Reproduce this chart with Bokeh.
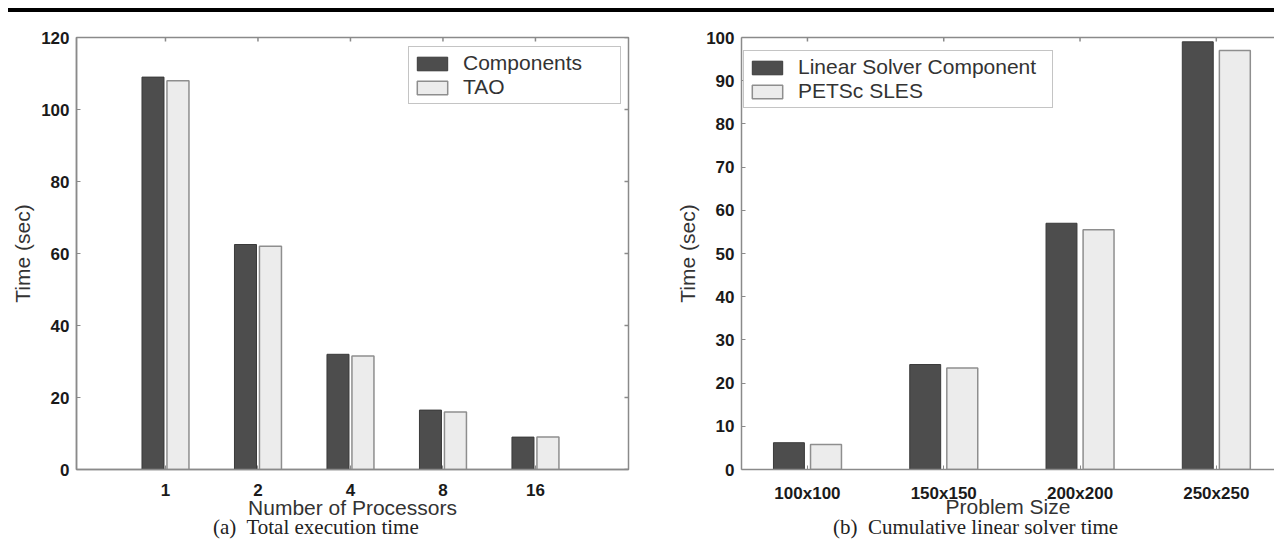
import numpy as np
from bokeh.plotting import figure
from bokeh.models import FixedTicker, Range1d, Div, LinearAxis
from bokeh.layouts import column, row
from bokeh.embed import file_html
from bokeh.resources import INLINE

# ---- data ----
procs = ["1", "2", "4", "8", "16"]
components = [109, 62.5, 32, 16.5, 9]
tao = [108, 62, 31.5, 16, 9]

sizes = ["100x100", "150x150", "200x200", "250x250"]
linear_solver = [6.2, 24.3, 57, 99]
petsc_sles = [5.8, 23.5, 55.5, 97]

DARK = "#4d4d4d"
DARK_LINE = "#3a3a3a"
LIGHT = "#ececec"
LIGHT_LINE = "#8e8e8e"
FRAME = "#8a8a8a"
SANS = "Liberation Sans"
SERIF = "Liberation Serif"
FIG_H = 517


def make_panel(cats, a, b, names, ymax, ystep, xr, width, mbl, mbr, bw, off,
               legend_xy, label_w, xlabel, xlabel_standoff, full_box):
    p = figure(width=width, height=FIG_H, x_range=Range1d(*xr), y_range=Range1d(0, ymax),
               output_backend="svg", toolbar_location=None,
               min_border_left=mbl, min_border_right=mbr, min_border_top=25,
               min_border_bottom=60, y_axis_label="Time (sec)")
    xs = np.arange(1, len(cats) + 1)
    p.vbar(x=xs - off, top=a, width=bw, fill_color=DARK, line_color=DARK_LINE,
           line_width=1, legend_label=names[0])
    p.vbar(x=xs + off, top=b, width=bw, fill_color=LIGHT, line_color=LIGHT_LINE,
           line_width=1.5, legend_label=names[1])
    p.grid.visible = False
    p.background_fill_color = "white"
    p.border_fill_color = "white"
    if full_box:
        p.outline_line_color = FRAME
        p.outline_line_width = 1.5
    else:
        p.outline_line_color = None

    yt = list(range(0, ymax + 1, ystep))
    xax = p.below[0]
    yax = p.left[0]
    xax.axis_label = xlabel
    xax.ticker = FixedTicker(ticks=list(xs))
    xax.major_label_overrides = {int(i): c for i, c in zip(xs, cats)}
    yax.ticker = FixedTicker(ticks=yt)
    for ax in (xax, yax):
        ax.axis_line_color = FRAME
        ax.axis_line_width = 1.5
        ax.major_tick_line_color = FRAME
        ax.major_tick_in = 4
        ax.major_tick_out = 0
        ax.minor_tick_line_color = None
        ax.major_label_text_font = SANS
        ax.major_label_text_font_style = "bold"
        ax.major_label_text_font_size = "17px"
        ax.major_label_text_color = "#1a1a1a"
        ax.axis_label_text_font = SANS
        ax.axis_label_text_font_style = "normal"
        ax.axis_label_text_font_size = "21px"
        ax.axis_label_text_color = "#333333"
    xax.major_label_standoff = 14
    xax.axis_label_standoff = xlabel_standoff
    yax.major_label_standoff = 7
    yax.axis_label_standoff = 4

    # inward ticks on the top edge (and right edge for the boxed panel)
    p.scatter(x=xs, y=[ymax] * len(xs), marker="dash", angle=np.pi / 2, size=8,
              line_color=FRAME, line_width=1.5)
    if full_box:
        p.scatter(x=[xr[1]] * len(yt), y=yt, marker="dash", size=8,
                  line_color=FRAME, line_width=1.5)
    else:
        top = LinearAxis(ticker=FixedTicker(ticks=[]), major_tick_line_color=None,
                         minor_tick_line_color=None, axis_line_color=FRAME,
                         axis_line_width=1.5, major_label_text_font_size="0px",
                         major_label_standoff=0)
        p.add_layout(top, "above")

    lg = p.legend[0]
    lg.location = legend_xy
    lg.border_line_color = FRAME
    lg.border_line_width = 1.5
    lg.background_fill_alpha = 1.0
    lg.label_text_font = SANS
    lg.label_text_font_size = "21px"
    lg.label_text_color = "#333333"
    lg.glyph_width = 38
    lg.glyph_height = 17
    lg.label_standoff = 12
    lg.label_width = label_w
    lg.padding = 4
    lg.spacing = 0
    lg.margin = 0
    lg.label_height = 22
    return p


p1 = make_panel(procs, components, tao, ["Components", "TAO"], 120, 20,
                (0.038, 6.006), 660, 68, 40, 0.238, 0.135, (332, 365), 153,
                "Number of Processors", -3, True)
p2 = make_panel(sizes, linear_solver, petsc_sles, ["Linear Solver Component", "PETSc SLES"],
                100, 10, (0.516, 4.427), 606, 73, 0, 0.227, 0.136, (2, 361), 250,
                "Problem Size", -11, False)

topline = Div(text="", width=1266, height=4, margin=(0, 0, 0, 0),
              styles={"background-color": "black"})

cap_style = {"font-family": SERIF, "font-size": "21px", "line-height": "14px",
             "white-space": "pre", "color": "#222222", "position": "relative",
             "top": "-9px"}
cap1 = Div(text="(a)  Total execution time", width=660, height=5, margin=(0, 0, 0, 0),
           styles=dict(cap_style, **{"padding-left": "205px"}))
cap2 = Div(text="(b)  Cumulative linear solver time", width=606, height=5,
           margin=(0, 0, 0, 0), styles=dict(cap_style, **{"padding-left": "165px"}))

layout = column(topline, row(p1, p2, spacing=0), row(cap1, cap2, spacing=0), spacing=0,
                margin=(8, 0, 0, 8))
open("out.html", "w").write(file_html(layout, INLINE))
